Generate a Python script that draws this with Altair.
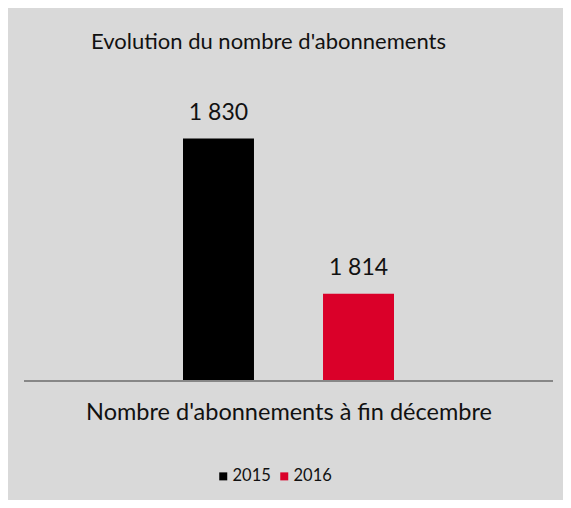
import altair as alt
import pandas as pd

years = ["2015", "2016"]
values = [1830, 1814]
colors = ["#000000", "#DA0029"]
axis_min = 1805

df = pd.DataFrame({"year": years, "value": values})

FONT = "Lato"
W, H = 529, 291

x = alt.X("year:N", title="Nombre d'abonnements à fin décembre",
          scale=alt.Scale(range=[159, 370], paddingInner=0.493, paddingOuter=0),
          axis=alt.Axis(labels=False, ticks=False, domain=False,
                        titleFont=FONT, titleFontSize=23.5, titleFontWeight="normal",
                        titleColor="#111111", titlePadding=19, titleX=W / 2))
y = alt.Y("value:Q", scale=alt.Scale(domain=[1805, 1835], zero=False, nice=False),
          axis=None)

bars = alt.Chart(df).mark_bar().encode(
    x=x, y=y, y2=alt.datum(axis_min),
    color=alt.Color("year:N", scale=alt.Scale(domain=years, range=colors),
                    legend=alt.Legend(title=None, orient="none", direction="horizontal",
                                      legendX=191, legendY=378, symbolType="square",
                                      symbolSize=64, symbolStrokeWidth=0,
                                      labelFont=FONT, labelFontSize=16.5, labelColor="#111111",
                                      columnPadding=5, labelOffset=1)),
)

labels = alt.Chart(df).transform_calculate(
    lab="replace(format(datum.value, ','), ',', ' ')"
).mark_text(font=FONT, fontSize=23, baseline="bottom", dy=-14, color="#111111").encode(
    x="year:N", y="value:Q", text="lab:N"
)

baseline = alt.Chart(df).mark_rule(color="#878787", strokeWidth=2).encode(
    x=alt.value(0), x2=alt.value(W), y=alt.value(H)
)

chart = (bars + baseline + labels).properties(
    width=W, height=H,
    autosize=alt.AutoSizeParams(type="none"),
    padding={"left": 16, "top": 82, "right": 10, "bottom": 119},
    background="#d9d9d9",
    title=alt.TitleParams("Evolution du nombre d'abonnements", font=FONT, fontSize=22,
                          fontWeight="normal", color="#111111", anchor="middle",
                          dx=-20, offset=36),
).configure_view(stroke=None)

chart.save("out.html", embed_options={"renderer": "svg", "actions": False})
